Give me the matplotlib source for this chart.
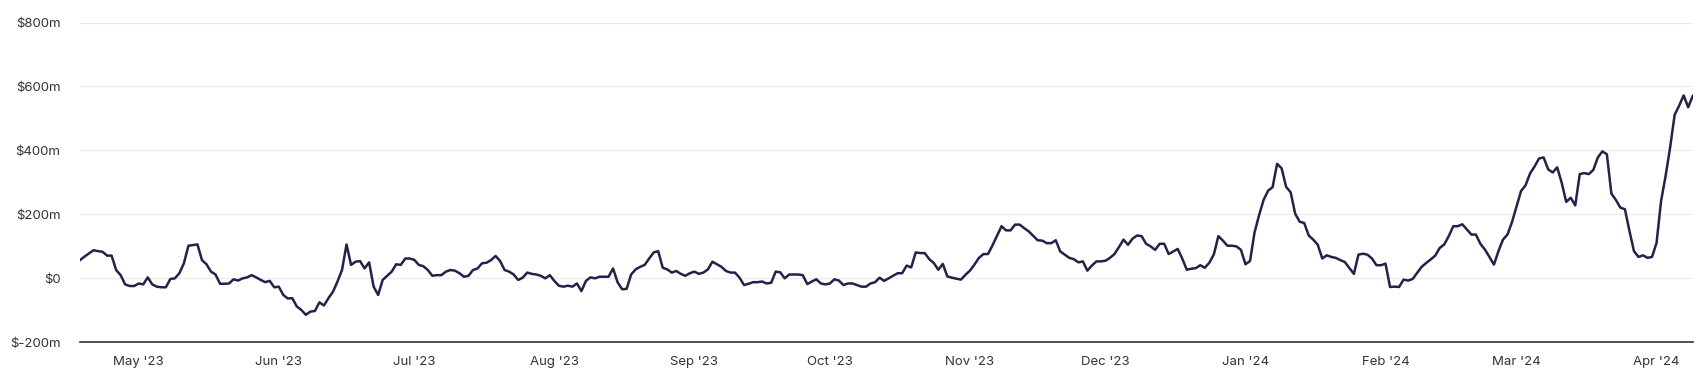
import matplotlib
matplotlib.use("Agg")
import matplotlib.pyplot as plt
import matplotlib.dates as mdates
import pandas as pd

# daily values in $m (Apr 18 2023 .. Apr 9 2024)
start_date = "2023-04-18"
apr_23 = [57, 68, 78, 88, 85, 83, 71, 71, 26, 10, -19, -24, -24]
may_23 = [-16, -19, 3, -19, -26, -28, -28, -2, 0, 16, 47, 102, 104, 106, 57, 44,
          21, 12, -17, -17, -16, -3, -7, 0, 3, 10, 3, -5, -12, -8, -28]
jun_23 = [-26, -52, -63, -62, -88, -99, -114, -104, -102, -75, -85, -62, -42, -10,
          26, 106, 42, 52, 54, 31, 50, -26, -52, -5, 8, 21, 44, 42, 62, 62]
jul_23 = [58, 42, 38, 26, 8, 10, 10, 21, 26, 24, 16, 5, 8, 26, 31, 47, 49, 57, 70,
          54, 26, 21, 12, -5, 2, 18, 14, 12, 8, 0, 10]
aug_23 = [-8, -23, -26, -23, -26, -16, -40, -8, 3, 0, 5, 5, 5, 31, -12, -34, -33,
          12, 28, 36, 42, 62, 81, 85, 33, 28, 18, 23, 14, 8, 16]
sep_23 = [21, 14, 18, 28, 52, 44, 36, 23, 18, 18, 2, -21, -17, -12, -12, -10, -16,
          -14, 21, 19, 0, 12, 12, 12, 10, -18, -10, -3, -16, -19]
oct_23 = [-16, -3, -7, -21, -16, -16, -21, -26, -26, -16, -12, 2, -8, 0, 8, 16, 16,
          40, 34, 81, 79, 79, 60, 48, 27, 45, 6, 2, -1, -4, 11]
nov_23 = [24, 43, 64, 76, 76, 103, 133, 163, 150, 150, 168, 168, 157, 147, 133, 119,
          118, 110, 110, 119, 84, 74, 64, 60, 50, 53, 24, 40, 53, 53]
dec_23 = [55, 64, 76, 98, 121, 105, 124, 134, 132, 108, 100, 89, 108, 108, 76, 84,
          92, 62, 27, 30, 32, 41, 33, 49, 75, 132, 118, 102, 102, 100, 89]
jan_24 = [44, 54, 143, 197, 245, 274, 285, 358, 344, 286, 269, 202, 177, 173, 134,
          121, 105, 62, 72, 67, 64, 57, 51, 32, 14, 74, 77, 74, 62, 41, 41]
feb_24 = [46, -27, -26, -27, -4, -7, -2, 17, 36, 48, 59, 71, 95, 106, 132, 163, 163,
          169, 153, 137, 137, 108, 90, 67, 43, 85, 121, 137, 176]
mar_24 = [224, 273, 291, 328, 350, 375, 378, 341, 331, 347, 299, 239, 252, 228, 326,
          329, 326, 339, 378, 397, 388, 265, 245, 221, 216, 148, 85, 67, 72, 64, 67]
apr_24 = [111, 242, 320, 409, 511, 540, 572, 535, 570]

values = (apr_23 + may_23 + jun_23 + jul_23 + aug_23 + sep_23 + oct_23 + nov_23
          + dec_23 + jan_24 + feb_24 + mar_24 + apr_24)
dates = pd.date_range(start_date, periods=len(values), freq="D")

y_ticks = [-200, 0, 200, 400, 600, 800]
y_labels = ["$-200m", "$0", "$200m", "$400m", "$600m", "$800m"]

plt.rcParams["font.family"] = ["Inter", "DejaVu Sans"]

fig = plt.figure(figsize=(17.06, 3.75), dpi=100)
ax = fig.add_axes([80 / 1706, 1 - 342.3 / 375, (1692.7 - 80) / 1706, (342.3 - 22.5) / 375])

ax.plot(dates, values, color="#25224a", linewidth=1.8, solid_joinstyle="round")

ax.set_xlim(dates[0], dates[-1])
ax.set_ylim(-200, 800)
ax.set_yticks(y_ticks)
ax.set_yticklabels(y_labels)
ax.grid(axis="y", color="#ebebeb", linewidth=0.8)
ax.set_axisbelow(True)

ax.xaxis.set_major_locator(mdates.MonthLocator())
ax.xaxis.set_major_formatter(mdates.DateFormatter("%b '%y"))

for side in ["top", "right", "left"]:
    ax.spines[side].set_visible(False)
ax.spines["bottom"].set_color("#333333")
ax.spines["bottom"].set_linewidth(1.2)

ax.tick_params(axis="both", length=0, labelsize=9.5, labelcolor="#333333")
ax.tick_params(axis="y", pad=14)
ax.tick_params(axis="x", pad=10)

fig.savefig("out.png", dpi=100)
